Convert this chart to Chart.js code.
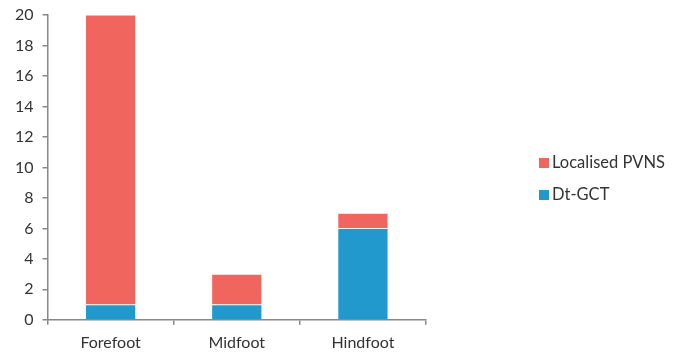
<!DOCTYPE html>
<html><head><meta charset="utf-8">
<script src="https://cdn.jsdelivr.net/npm/chart.js@4/dist/chart.umd.min.js"></script>
<style>html,body{margin:0;padding:0;background:#fff}#w{width:678px;height:352px}</style>
</head><body><div id="w"><canvas id="c"></canvas></div>
<script>
const categories = ["Forefoot", "Midfoot", "Hindfoot"];
const dtGCT = [1, 1, 6];
const localisedPVNS = [19, 2, 1];
const yTicks = [0, 2, 4, 6, 8, 10, 12, 14, 16, 18, 20];

const FONT = "Lato, sans-serif";
const TXT = "#333333";

const legendPlugin = {
  id: 'sideLegend',
  afterDraw(chart) {
    const ctx = chart.ctx;
    const items = chart.data.datasets.slice().reverse();
    ctx.save();
    ctx.font = "16.5px " + FONT;
    ctx.textBaseline = 'middle';
    items.forEach((ds, i) => {
      const y = 163 + i * 32;
      ctx.fillStyle = ds.backgroundColor;
      ctx.fillRect(539, y - 5, 10, 10);
      ctx.fillStyle = TXT;
      ctx.fillText(ds.label, 552, y);
    });
    ctx.restore();
  }
};

new Chart(document.getElementById('c'), {
  type: 'bar',
  data: {
    labels: categories,
    datasets: [
      { label: 'Dt-GCT', data: dtGCT, backgroundColor: '#2199CC', borderColor: '#ffffff', borderWidth: 0.6 },
      { label: 'Localised PVNS', data: localisedPVNS, backgroundColor: '#F0665F', borderColor: '#ffffff', borderWidth: 0.6 }
    ]
  },
  options: {
    responsive: true,
    maintainAspectRatio: false,
    animation: false,
    layout: { padding: { left: 6, right: 252, top: 0, bottom: -8 } },
    plugins: { legend: { display: false }, tooltip: { enabled: false } },
    datasets: { bar: { categoryPercentage: 1, barPercentage: 0.4 } },
    scales: {
      x: {
        stacked: true,
        grid: { offset: true, drawOnChartArea: false, tickLength: 5, color: '#888', lineWidth: 1.5 },
        border: { color: '#888', width: 1.5 },
        ticks: { color: TXT, font: { family: FONT, size: 16 }, padding: 8 }
      },
      y: {
        stacked: true,
        min: 0, max: 20,
        afterBuildTicks(scale) { scale.ticks = yTicks.map(v => ({ value: v })); },
        afterFit(scale) { scale.paddingTop = 15; },
        grid: { drawOnChartArea: false, tickLength: 5, color: '#888', lineWidth: 1.5 },
        border: { color: '#888', width: 1.5 },
        ticks: { color: TXT, font: { family: FONT, size: 16 }, padding: 9 }
      }
    }
  },
  plugins: [legendPlugin]
});
</script></body></html>
